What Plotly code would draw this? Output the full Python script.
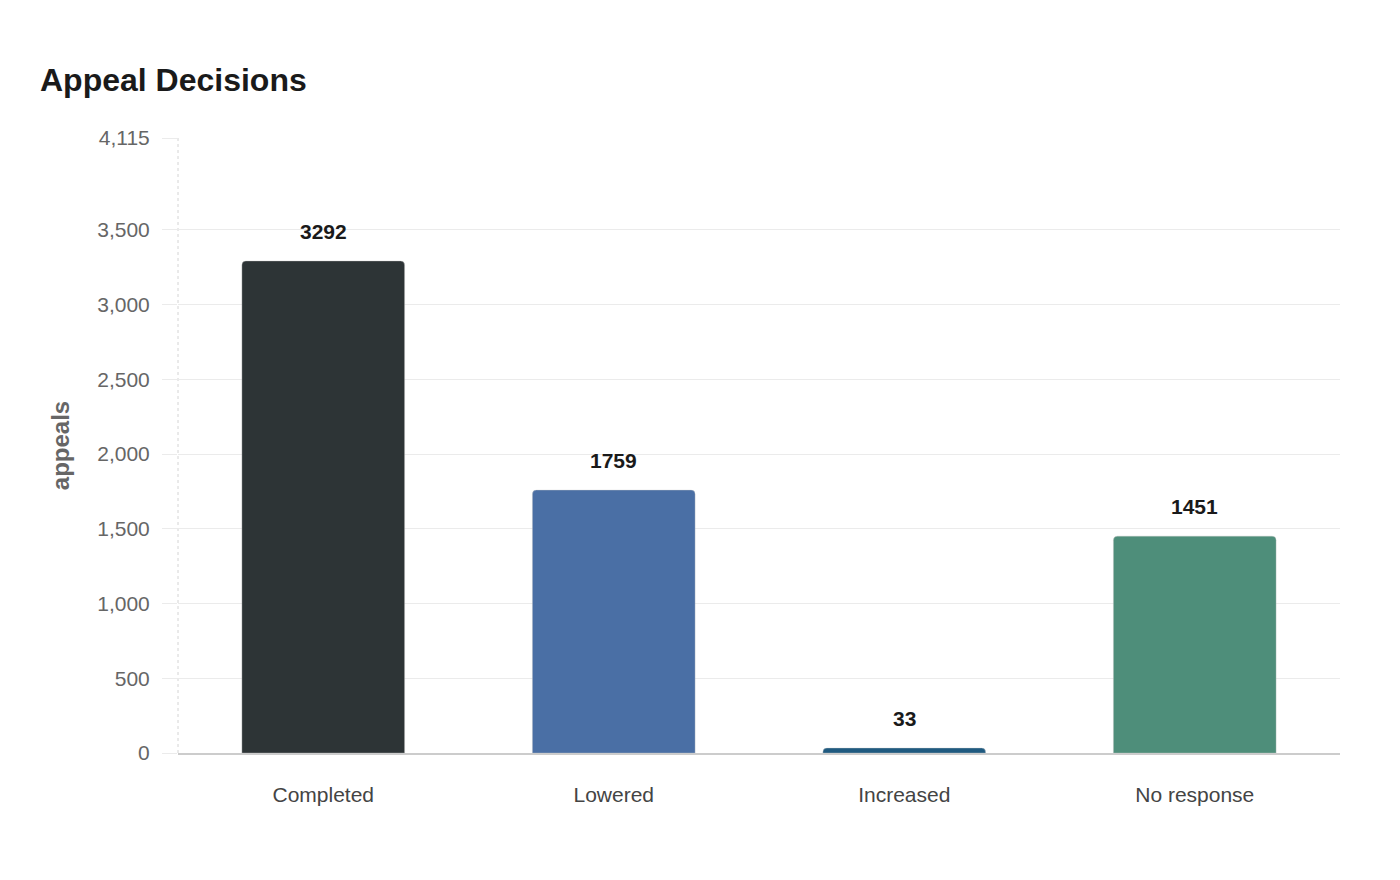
import plotly.graph_objects as go

categories = ["Completed", "Lowered", "Increased", "No response"]
appeals = [3292, 1759, 33, 1451]
bar_colors = ["#2d3436", "#4a6fa5", "#1f5a80", "#4e8e7a"]
y_ticks = [0, 500, 1000, 1500, 2000, 2500, 3000, 3500, 4115]
y_tick_text = [f"{v:,}" for v in y_ticks]

fig = go.Figure(
    go.Bar(
        x=categories,
        y=appeals,
        marker=dict(color=bar_colors, cornerradius=4, line=dict(width=0.6, color="rgba(200,200,200,0.6)")),
        width=0.56,
        hoverinfo="x+y",
    )
)

# value labels sit a bit above each bar
for cat, val in zip(categories, appeals):
    fig.add_annotation(
        x=cat,
        y=val,
        text=f"<b>{val}</b>",
        showarrow=False,
        yshift=30,
        font=dict(size=21, color="#1a1a1a", family="Liberation Sans, Arial"),
    )

# dotted left axis line
fig.add_shape(
    type="line",
    xref="paper",
    yref="paper",
    x0=0,
    x1=0,
    y0=0,
    y1=1,
    line=dict(color="#d4d4d4", width=1, dash="dot"),
    layer="below",
)

# page has an 8px body margin, so offsets are pulled in by 8px
fig.update_layout(
    width=1400,
    height=880,
    paper_bgcolor="white",
    plot_bgcolor="white",
    font=dict(family="Liberation Sans, Arial", color="#444"),
    title=dict(
        text="<b>Appeal Decisions</b>",
        x=32 / 1400,
        xanchor="left",
        y=1 - 72 / 880,
        yanchor="middle",
        font=dict(size=32, color="#1a1a1a"),
    ),
    margin=dict(l=170, r=68, t=130, b=135),
    showlegend=False,
)

fig.update_xaxes(
    showline=True,
    linecolor="#cccccc",
    linewidth=1.5,
    showgrid=False,
    ticks="",
    tickfont=dict(size=21, color="#444"),
    ticklabelstandoff=22,
)

fig.update_yaxes(
    range=[0, 4115],
    tickvals=y_ticks,
    ticktext=y_tick_text,
    showgrid=True,
    gridcolor="#ebebeb",
    gridwidth=1.2,
    zeroline=False,
    showline=False,
    ticks="outside",
    ticklen=15,
    tickwidth=1.2,
    tickcolor="#ebebeb",
    tickfont=dict(size=21, color="#666"),
    ticklabelstandoff=8,
    title=dict(text="<b>appeals</b>", font=dict(size=24, color="#666"), standoff=20),
)

fig.write_html("out.html")
